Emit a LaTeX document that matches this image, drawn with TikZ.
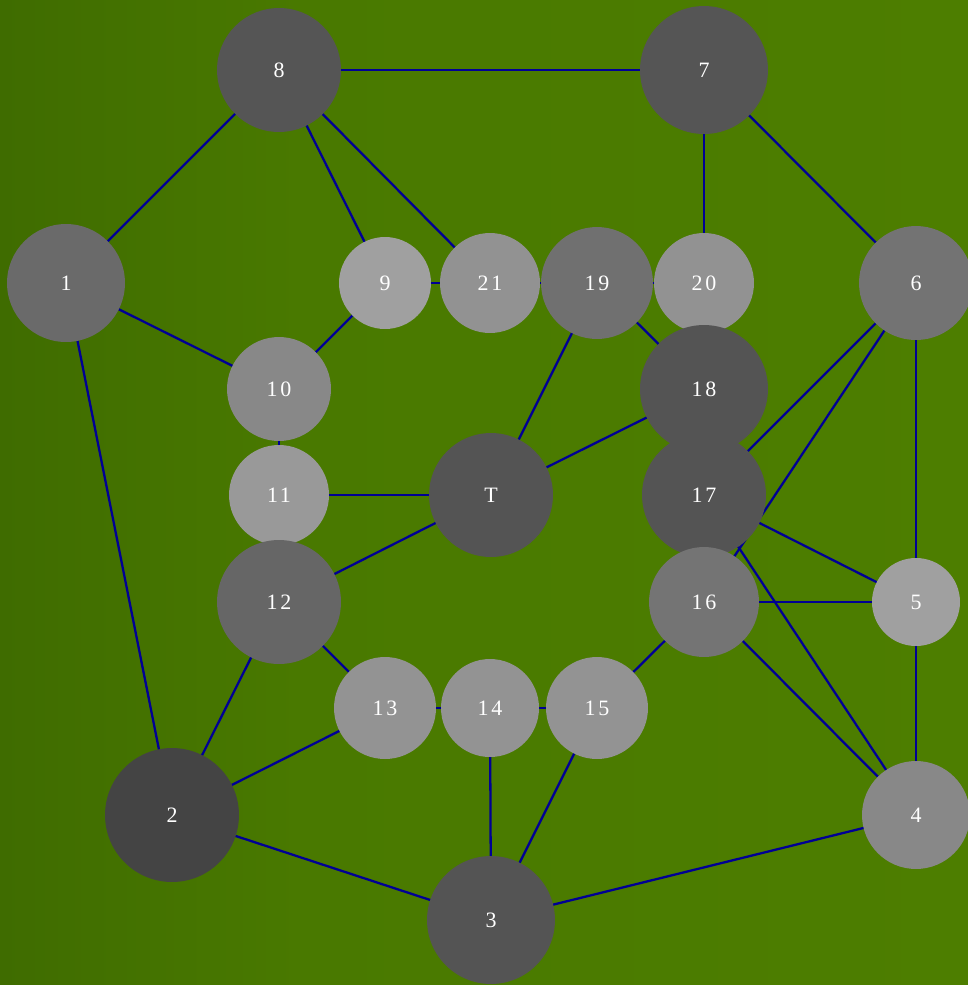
\documentclass[tikz,border=0pt]{standalone}
\usepackage{fontspec}
\setmainfont{Liberation Serif}
\newfontfamily\lblfont[LetterSpace=12]{Liberation Serif}
\usepackage{tikz}
\usetikzlibrary{positioning, calc}
\pgfdeclarelayer{back}
\pgfdeclarelayer{edges}
\pgfsetlayers{back,edges,main}
\definecolor{grassL}{HTML}{3F6C00}
\definecolor{grassM}{HTML}{497900}
\definecolor{grassR}{HTML}{4D7E00}
\definecolor{edgeblue}{HTML}{000095}
\tikzset{
    vtx/.style={circle, draw=none, text=white, inner sep=0pt, font=\lblfont\fontsize{12.5}{14}\selectfont},
    lnk/.style={edgeblue, line width=1.3pt}
}

\begin{document}
\begin{tikzpicture}[x=0.02cm, y=-0.02cm]
        \clip (0,0) rectangle (968,985);
        \begin{pgfonlayer}{back}
        \shade[left color=grassL, right color=grassM] (0,0) rectangle (300,985);
        \shade[left color=grassM, right color=grassR] (300,0) rectangle (968,985);
        \end{pgfonlayer}
        %
        \node[vtx, fill={rgb,255:red,85;green,85;blue,85}, minimum size=2.48cm] (n8) at (279,70) {8};
        \node[vtx, fill={rgb,255:red,85;green,85;blue,85}, minimum size=2.56cm] (n7) at (704,70) {7};
        %
        \node[vtx, fill={rgb,255:red,106;green,106;blue,106}, minimum size=2.36cm] (n1) at (66,283) {1};
        \node[vtx, fill={rgb,255:red,160;green,160;blue,160}, minimum size=1.84cm] (n9) at (385,283) {9};
        \node[vtx, fill={rgb,255:red,146;green,146;blue,146}, minimum size=2.0cm] (n21) at (490,283) {21};
        \node[vtx, fill={rgb,255:red,112;green,112;blue,112}, minimum size=2.24cm] (n19) at (597,283) {19};
        \node[vtx, fill={rgb,255:red,146;green,146;blue,146}, minimum size=2.0cm] (n20) at (704,283) {20};
        \node[vtx, fill={rgb,255:red,115;green,115;blue,115}, minimum size=2.28cm] (n6) at (916,283) {6};
        %
        \node[vtx, fill={rgb,255:red,136;green,136;blue,136}, minimum size=2.08cm] (n10) at (279,389) {10};
        \node[vtx, fill={rgb,255:red,84;green,84;blue,84}, minimum size=2.56cm] (n18) at (704,389) {18};
        %
        \node[vtx, fill={rgb,255:red,153;green,153;blue,153}, minimum size=2.0cm] (n11) at (279,495) {11};
        \node[vtx, fill={rgb,255:red,84;green,84;blue,84}, minimum size=2.48cm] (nT) at (491,495) {T};
        \node[vtx, fill={rgb,255:red,84;green,84;blue,84}, minimum size=2.48cm] (n17) at (704,495) {17};
        %
        \node[vtx, fill={rgb,255:red,102;green,102;blue,102}, minimum size=2.48cm] (n12) at (279,602) {12};
        \node[vtx, fill={rgb,255:red,116;green,116;blue,116}, minimum size=2.2cm] (n16) at (704,602) {16};
        \node[vtx, fill={rgb,255:red,160;green,160;blue,160}, minimum size=1.76cm] (n5) at (916,602) {5};
        %
        \node[vtx, fill={rgb,255:red,147;green,147;blue,147}, minimum size=2.04cm] (n13) at (385,708) {13};
        \node[vtx, fill={rgb,255:red,147;green,147;blue,147}, minimum size=1.96cm] (n14) at (490,708) {14};
        \node[vtx, fill={rgb,255:red,147;green,147;blue,147}, minimum size=2.04cm] (n15) at (597,708) {15};
        %
        \node[vtx, fill={rgb,255:red,68;green,68;blue,68}, minimum size=2.68cm] (n2) at (172,815) {2};
        \node[vtx, fill={rgb,255:red,136;green,136;blue,136}, minimum size=2.16cm] (n4) at (916,815) {4};
        \node[vtx, fill={rgb,255:red,84;green,84;blue,84}, minimum size=2.56cm] (n3) at (491,920) {3};
        %
        \begin{pgfonlayer}{edges}
        \draw[lnk] (n8.center)--(n7.center);
        \draw[lnk] (n8.center)--(n1.center);
        \draw[lnk] (n8.center)--(n9.center);
        \draw[lnk] (n8.center)--(n21.center);
        \draw[lnk] (n7.center)--(n20.center);
        \draw[lnk] (n7.center)--(n6.center);
        \draw[lnk] (n1.center)--(n10.center);
        \draw[lnk] (n1.center)--(n2.center);
        \draw[lnk] (n9.center)--(n21.center);
        \draw[lnk] (n9.center)--(n10.center);
        \draw[lnk] (n21.center)--(n19.center);
        \draw[lnk] (n19.center)--(n20.center);
        \draw[lnk] (n19.center)--(n18.center);
        \draw[lnk] (n19.center)--(nT.center);
        \draw[lnk] (n20.center)--(n18.center);
        \draw[lnk] (n10.center)--(n11.center);
        \draw[lnk] (n11.center)--(nT.center);
        \draw[lnk] (n11.center)--(n12.center);
        \draw[lnk] (nT.center)--(n18.center);
        \draw[lnk] (nT.center)--(n12.center);
        \draw[lnk] (n18.center)--(n17.center);
        \draw[lnk] (n6.center)--(n17.center);
        \draw[lnk] (n6.center)--(n16.center);
        \draw[lnk] (n6.center)--(n5.center);
        \draw[lnk] (n17.center)--(n16.center);
        \draw[lnk] (n17.center)--(n5.center);
        \draw[lnk] (n17.center)--(n4.center);
        \draw[lnk] (n16.center)--(n5.center);
        \draw[lnk] (n16.center)--(n4.center);
        \draw[lnk] (n16.center)--(n15.center);
        \draw[lnk] (n5.center)--(n4.center);
        \draw[lnk] (n4.center)--(n3.center);
        \draw[lnk] (n12.center)--(n2.center);
        \draw[lnk] (n12.center)--(n13.center);
        \draw[lnk] (n13.center)--(n2.center);
        \draw[lnk] (n13.center)--(n14.center);
        \draw[lnk] (n14.center)--(n15.center);
        \draw[lnk] (n14.center)--(n3.center);
        \draw[lnk] (n15.center)--(n3.center);
        \draw[lnk] (n2.center)--(n3.center);
        \end{pgfonlayer}
    \end{tikzpicture}
\end{document}
